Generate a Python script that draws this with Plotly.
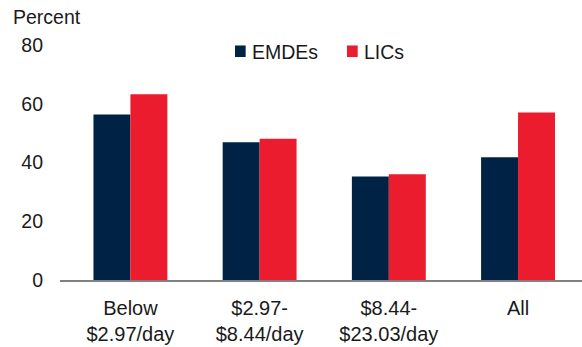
import plotly.graph_objects as go

# Share of households, by daily income bracket
categories = ["Below<br>$2.97/day", "$2.97-<br>$8.44/day", "$8.44-<br>$23.03/day", "All"]
emdes = [56.3, 46.9, 35.2, 41.8]
lics = [63.2, 48.1, 36.0, 57.0]
y_ticks = [0, 20, 40, 60, 80]

NAVY = "#002345"
RED = "#EB1C2D"
FONT = "Liberation Sans, Arial, sans-serif"

fig = go.Figure()
fig.add_trace(go.Bar(x=categories, y=emdes, name="EMDEs", marker=dict(color=NAVY, line=dict(width=0))))
fig.add_trace(go.Bar(x=categories, y=lics, name="LICs", marker=dict(color=RED, line=dict(width=0))))

# Compact legend: small square swatch followed closely by the series name
legend_items = [("EMDEs", NAVY, 0.3352), ("LICs", RED, 0.5498)]
shapes = []
annotations = []
for name, color, x0 in legend_items:
    shapes.append(dict(type="rect", xref="paper", yref="paper", x0=x0, x1=x0 + 0.0205,
                       y0=0.949, y1=0.998, fillcolor=color, line=dict(width=0)))
    annotations.append(dict(text=name, xref="paper", yref="paper", x=x0 + 0.0285, y=0.972,
                            xanchor="left", yanchor="middle", showarrow=False,
                            font=dict(size=19.5)))

annotations.append(dict(text="Percent", xref="paper", yref="paper", x=-0.093, y=1.0,
                        yshift=28, xanchor="left", yanchor="middle", showarrow=False,
                        font=dict(size=19.5)))

fig.update_layout(
    width=582, height=347,
    margin=dict(l=60, r=0, t=45, b=67),
    paper_bgcolor="white", plot_bgcolor="white",
    barmode="group", bargap=0.428, bargroupgap=0,
    font=dict(family=FONT, size=19.5, color="#1a1a1a"),
    showlegend=False,
    xaxis=dict(range=[-0.545, 3.495], showline=True, linecolor="#808080", linewidth=1.5,
               ticks="", showgrid=False, zeroline=False, ticklabelstandoff=9,
               tickfont=dict(size=20)),
    yaxis=dict(range=[0, 80], tickvals=y_ticks, showline=False, showgrid=False,
               zeroline=False, ticks="", ticklabelstandoff=16),
    shapes=shapes,
    annotations=annotations,
)

fig.write_html("out.html")
